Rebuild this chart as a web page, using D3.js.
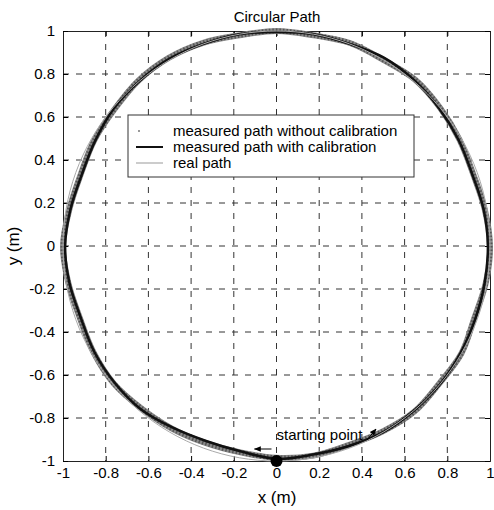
<!DOCTYPE html>
<html>
<head>
<meta charset="utf-8">
<script src="https://cdn.jsdelivr.net/npm/d3@7"></script>
<style>
body { margin: 0; background: #fff; }
text { font-family: Arial, "Liberation Sans", sans-serif; fill: #000; }
</style>
</head>
<body>
<script>
// tick values on both axes
var ticks = [-1, -0.8, -0.6, -0.4, -0.2, 0, 0.2, 0.4, 0.6, 0.8, 1]

// real path (the reference circle)
var realPath = [[1,0],[0.985,0.174],[0.94,0.342],[0.866,0.5],[0.766,0.643],[0.643,0.766],[0.5,0.866],[0.342,0.94],[0.174,0.985],[0,1],
  [-0.174,0.985],[-0.342,0.94],[-0.5,0.866],[-0.643,0.766],[-0.766,0.643],[-0.866,0.5],[-0.94,0.342],[-0.985,0.174],[-1,0],
  [-0.985,-0.174],[-0.94,-0.342],[-0.866,-0.5],[-0.766,-0.643],[-0.643,-0.766],[-0.5,-0.866],[-0.342,-0.94],[-0.174,-0.985],[0,-1],
  [0.174,-0.985],[0.342,-0.94],[0.5,-0.866],[0.643,-0.766],[0.766,-0.643],[0.866,-0.5],[0.94,-0.342],[0.985,-0.174]]

// measured path with calibration
var withCal = [[0.99,0],[0.97,0.171],[0.917,0.333],[0.853,0.493],[0.762,0.64],[0.646,0.77],[0.505,0.875],[0.342,0.94],[0.174,0.985],[0,0.995],
  [-0.174,0.985],[-0.342,0.94],[-0.503,0.87],[-0.643,0.766],[-0.762,0.64],[-0.849,0.49],[-0.912,0.332],[-0.965,0.171],[-0.99,0],
  [-0.97,-0.171],[-0.917,-0.333],[-0.853,-0.493],[-0.758,-0.636],[-0.637,-0.758],[-0.488,-0.844],[-0.33,-0.907],[-0.169,-0.955],[0,-0.99],
  [0.171,-0.97],[0.339,-0.93],[0.5,-0.866],[0.643,-0.766],[0.766,-0.643],[0.862,-0.498],[0.931,-0.339],[0.975,-0.172]]

// measured path without calibration
var withoutCal = [[1,0],[0.975,0.172],[0.921,0.335],[0.857,0.495],[0.766,0.643],[0.649,0.774],[0.5,0.866],[0.344,0.944],[0.173,0.98],[0,1],
  [-0.173,0.98],[-0.344,0.945],[-0.505,0.875],[-0.646,0.77],[-0.758,0.637],[-0.853,0.493],[-0.917,0.333],[-0.97,0.171],[-1,0],
  [-0.975,-0.172],[-0.921,-0.335],[-0.857,-0.495],[-0.762,-0.64],[-0.633,-0.755],[-0.49,-0.849],[-0.333,-0.916],[-0.169,-0.96],[0,-0.985],
  [0.172,-0.975],[0.337,-0.926],[0.498,-0.862],[0.646,-0.77],[0.762,-0.64],[0.866,-0.5],[0.926,-0.337],[0.98,-0.173]]

var startPoint = [0, -1]

var svg = d3.select("body").append("svg")
  .attr("width", 494)
  .attr("height", 510)

var x = d3.scaleLinear().domain([-1, 1]).range([63, 490])
var y = d3.scaleLinear().domain([-1, 1]).range([461, 31])

// grid
svg.selectAll("line.gx")
  .data(ticks.slice(1, -1))
  .enter()
  .append("line")
  .attr("x1", function(d){ return x(d) })
  .attr("x2", function(d){ return x(d) })
  .attr("y1", y(1))
  .attr("y2", y(-1))
  .attr("stroke", "#333")
  .attr("stroke-dasharray", "6,7")

svg.selectAll("line.gy")
  .data(ticks.slice(1, -1))
  .enter()
  .append("line")
  .attr("y1", function(d){ return y(d) })
  .attr("y2", function(d){ return y(d) })
  .attr("x1", x(-1))
  .attr("x2", x(1))
  .attr("stroke", "#333")
  .attr("stroke-dasharray", "6,7")

// axes with inward ticks, plain hyphen for minus like the original
var fmt = function(d){ return String(+d.toFixed(1)) }

svg.append("g")
  .attr("transform", "translate(0," + y(-1) + ")")
  .call(d3.axisBottom(x).tickValues(ticks).tickSize(-5).tickPadding(6).tickFormat(fmt))
svg.append("g")
  .attr("transform", "translate(0," + y(1) + ")")
  .call(d3.axisTop(x).tickValues(ticks).tickSize(-5).tickFormat(""))
svg.append("g")
  .attr("transform", "translate(" + x(-1) + ",0)")
  .call(d3.axisLeft(y).tickValues(ticks).tickSize(-5).tickPadding(8).tickFormat(fmt))
svg.append("g")
  .attr("transform", "translate(" + x(1) + ",0)")
  .call(d3.axisRight(y).tickValues(ticks).tickSize(-5).tickFormat(""))

svg.selectAll(".domain").attr("stroke", "#222")
svg.selectAll(".tick text").style("font-size", "15px").style("font-family", "Arial, 'Liberation Sans', sans-serif")

// paths
var line = d3.line()
  .x(function(d){ return x(d[0]) })
  .y(function(d){ return y(d[1]) })
  .curve(d3.curveCatmullRomClosed)

svg.append("path")
  .datum(withoutCal)
  .attr("d", line)
  .attr("fill", "none")
  .attr("stroke", "#8a8a8a")
  .attr("stroke-width", 6)

svg.append("path")
  .datum(withoutCal)
  .attr("d", line)
  .attr("fill", "none")
  .attr("stroke", "#555")
  .attr("stroke-width", 5)
  .attr("stroke-dasharray", "1.5,2")

svg.append("path")
  .datum(withCal)
  .attr("d", line)
  .attr("fill", "none")
  .attr("stroke", "#111")
  .attr("stroke-width", 2.5)

svg.append("path")
  .datum(realPath)
  .attr("d", line)
  .attr("fill", "none")
  .attr("stroke", "#aaa")
  .attr("stroke-width", 1)

// starting point
svg.append("circle")
  .attr("cx", x(startPoint[0]))
  .attr("cy", y(startPoint[1]))
  .attr("r", 6)
  .attr("fill", "#000")

svg.append("defs").append("marker")
  .attr("id", "arr")
  .attr("viewBox", "0 0 10 10")
  .attr("refX", 9).attr("refY", 5)
  .attr("markerWidth", 7).attr("markerHeight", 7)
  .attr("orient", "auto")
  .append("path")
  .attr("d", "M0,1 L10,5 L0,9 z")
  .attr("fill", "#000")

svg.append("line")
  .attr("x1", x(startPoint[0]) - 5).attr("y1", 449)
  .attr("x2", x(startPoint[0]) - 22).attr("y2", 449)
  .attr("stroke", "#000")
  .attr("marker-end", "url(#arr)")

svg.append("line")
  .attr("x1", 367).attr("y1", 440)
  .attr("x2", 376).attr("y2", 429)
  .attr("stroke", "#000")
  .attr("marker-end", "url(#arr)")

svg.append("text")
  .attr("x", x(startPoint[0]))
  .attr("y", 440)
  .style("font-size", "15px")
  .text("starting point")

// legend
var legend = svg.append("g")
legend.append("rect")
  .attr("x", 128).attr("y", 115)
  .attr("width", 286).attr("height", 62)
  .attr("fill", "#fff")
  .attr("stroke", "#333")

var legendItems = ["measured path without calibration", "measured path with calibration", "real path"]

legend.selectAll("text.lg")
  .data(legendItems)
  .enter()
  .append("text")
  .attr("x", 173)
  .attr("y", function(d, i){ return 136 + i*16 })
  .style("font-size", "15px")
  .text(function(d){ return d })

legend.append("circle").attr("cx", 139).attr("cy", 131).attr("r", 1).attr("fill", "#777")
legend.append("line").attr("x1", 136).attr("x2", 163).attr("y1", 147).attr("y2", 147)
  .attr("stroke", "#111").attr("stroke-width", 2)
legend.append("line").attr("x1", 136).attr("x2", 163).attr("y1", 163).attr("y2", 163)
  .attr("stroke", "#999").attr("stroke-width", 1)

// titles
svg.append("text")
  .attr("x", 277).attr("y", 22)
  .attr("text-anchor", "middle")
  .style("font-size", "15px")
  .text("Circular Path")

svg.append("text")
  .attr("x", 277).attr("y", 503)
  .attr("text-anchor", "middle")
  .style("font-size", "17px")
  .text("x  (m)")

svg.append("text")
  .attr("transform", "translate(19," + y(0) + ") rotate(-90)")
  .attr("text-anchor", "middle")
  .style("font-size", "17px")
  .text("y  (m)")
</script>
</body>
</html>
